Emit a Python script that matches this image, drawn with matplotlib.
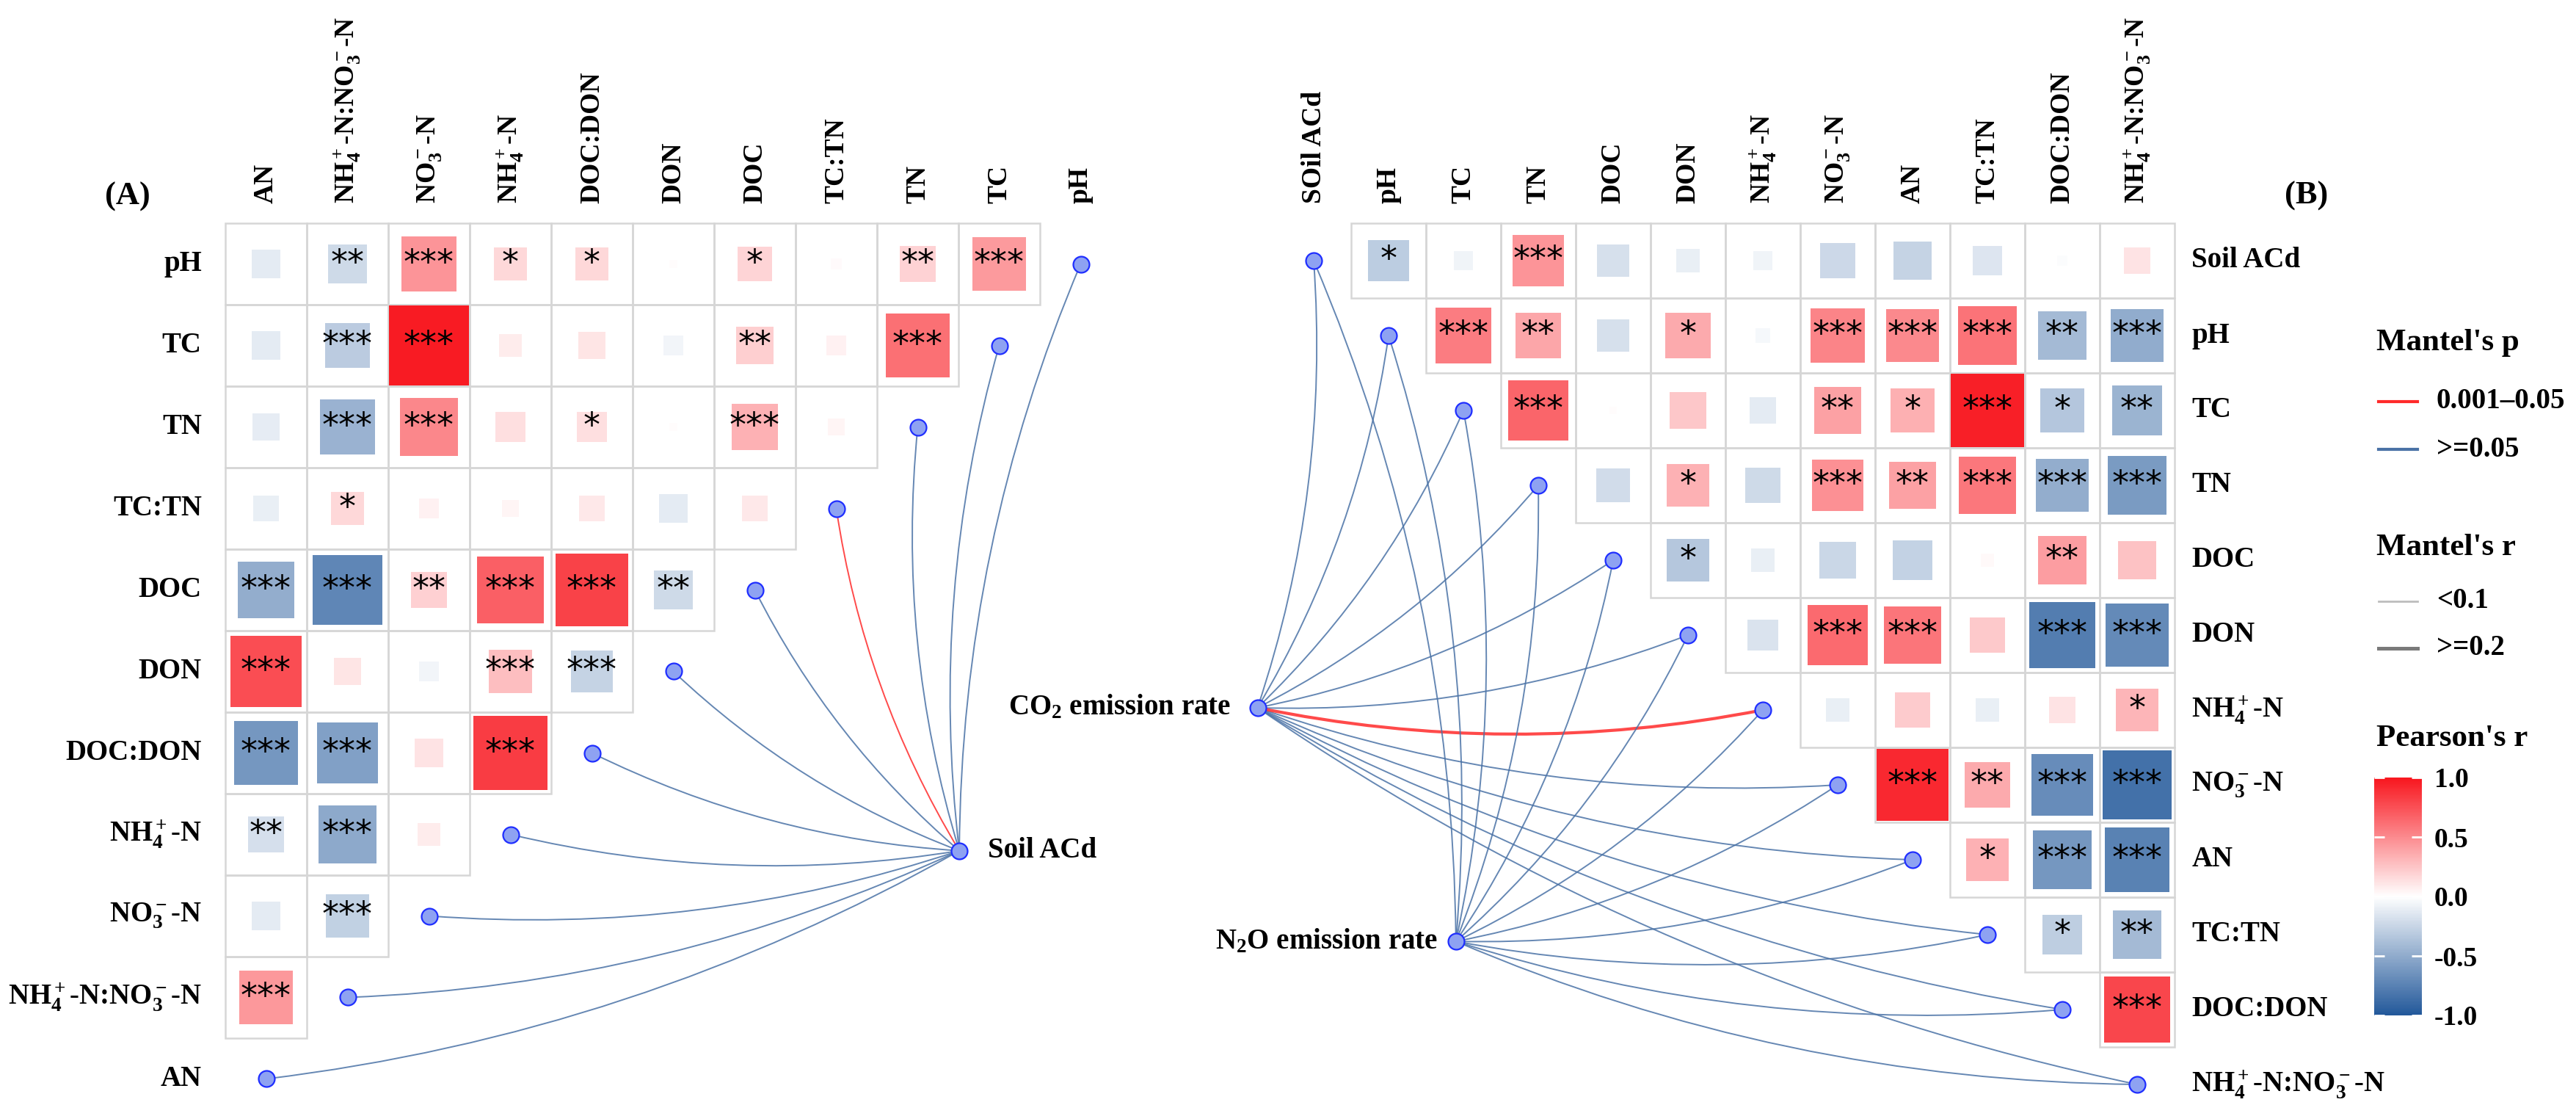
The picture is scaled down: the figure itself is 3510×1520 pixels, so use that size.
import numpy as np
import matplotlib.pyplot as plt
from matplotlib.colors import LinearSegmentedColormap, Normalize
from matplotlib.patches import Rectangle, PathPatch
from matplotlib.path import Path
from matplotlib.cm import ScalarMappable

plt.rcParams['font.family'] = ['Liberation Serif', 'DejaVu Sans']
plt.rcParams['font.weight'] = 'bold'
plt.rcParams['mathtext.fontset'] = 'custom'
plt.rcParams['mathtext.rm'] = 'Liberation Serif:bold'
plt.rcParams['mathtext.it'] = 'Liberation Serif:italic:bold'
plt.rcParams['mathtext.bf'] = 'Liberation Serif:bold'

NH4 = r'NH$_4^+$-N'
NO3 = r'NO$_3^-$-N'
RATIO = r'NH$_4^+$-N:NO$_3^-$-N'

# ---------------- panel A data ----------------
rows_a = ['pH', 'TC', 'TN', 'TC:TN', 'DOC', 'DON', 'DOC:DON', NH4, NO3, RATIO, 'AN']
cols_a = ['AN', RATIO, NO3, NH4, 'DOC:DON', 'DON', 'DOC', 'TC:TN', 'TN', 'TC', 'pH']

r_a = [
    [-0.12, -0.22, 0.46, 0.17, 0.17, 0.01, 0.18, 0.02, 0.19, 0.43],
    [-0.12, -0.31, 0.97, 0.08, 0.11, -0.06, 0.21, 0.06, 0.61],
    [-0.11, -0.46, 0.51, 0.14, 0.14, 0.01, 0.33, 0.04],
    [-0.10, 0.17, 0.06, 0.04, 0.10, -0.12, 0.10],
    [-0.49, -0.72, 0.20, 0.68, 0.81, -0.22],
    [0.76, 0.11, -0.06, 0.28, -0.26],
    [-0.62, -0.57, 0.12, 0.83],
    [-0.19, -0.51, 0.08],
    [-0.12, -0.28],
    [0.44],
]
stars_a = [
    ['', '**', '***', '*', '*', '', '*', '', '**', '***'],
    ['', '***', '***', '', '', '', '**', '', '***'],
    ['', '***', '***', '', '*', '', '***', ''],
    ['', '*', '', '', '', '', ''],
    ['***', '***', '**', '***', '***', '**'],
    ['***', '', '', '***', '***'],
    ['***', '***', '', '***'],
    ['**', '***', ''],
    ['', '***'],
    ['***'],
]
# Mantel test of Soil ACd against each row variable (order of rows_a)
mantel_p_a = ['>=0.05', '>=0.05', '>=0.05', '0.001-0.05', '>=0.05', '>=0.05',
              '>=0.05', '>=0.05', '>=0.05', '>=0.05', '>=0.05']
mantel_r_a = ['<0.1'] * 11

# ---------------- panel B data ----------------
rows_b = ['Soil ACd', 'pH', 'TC', 'TN', 'DOC', 'DON', NH4, NO3, 'AN', 'TC:TN', 'DOC:DON', RATIO]
cols_b = ['SOil ACd', 'pH', 'TC', 'TN', 'DOC', 'DON', NH4, NO3, 'AN', 'TC:TN', 'DOC:DON', RATIO]

r_b = [
    [-0.30, -0.07, 0.46, -0.18, -0.10, -0.07, -0.23, -0.26, -0.15, -0.02, 0.12],
    [0.56, 0.38, -0.18, 0.36, -0.04, 0.53, 0.50, 0.60, -0.41, -0.50],
    [0.66, 0.01, 0.24, -0.12, 0.40, 0.34, 0.96, -0.34, -0.45],
    [-0.21, 0.33, -0.22, 0.47, 0.40, 0.58, -0.49, -0.60],
    [-0.33, -0.10, -0.24, -0.27, 0.03, 0.42, 0.26],
    [-0.17, 0.64, 0.59, 0.23, -0.78, -0.70],
    [-0.10, 0.22, -0.10, 0.12, 0.32],
    [0.92, 0.36, -0.68, -0.85],
    [0.33, -0.62, -0.75],
    [-0.29, -0.41],
    [0.79],
]
stars_b = [
    ['*', '', '***', '', '', '', '', '', '', '', ''],
    ['***', '**', '', '*', '', '***', '***', '***', '**', '***'],
    ['***', '', '', '', '**', '*', '***', '*', '**'],
    ['', '*', '', '***', '**', '***', '***', '***'],
    ['*', '', '', '', '', '**', ''],
    ['', '***', '***', '', '***', '***'],
    ['', '', '', '', '*'],
    ['***', '**', '***', '***'],
    ['*', '***', '***'],
    ['*', '**'],
    ['***'],
]
env_b = [r'CO$_2$ emission rate', r'N$_2$O emission rate']
mantel_p_b = [
    ['>=0.05'] * 6 + ['0.001-0.05'] + ['>=0.05'] * 5,
    ['>=0.05'] * 12,
]
mantel_r_b = [
    ['<0.1'] * 6 + ['>=0.2'] + ['<0.1'] * 5,
    ['<0.1'] * 12,
]

# ---------------- styles ----------------
cmap = LinearSegmentedColormap.from_list('pr', ['#22589A', '#FFFFFF', '#F8161E'])
norm = Normalize(-1, 1)
grid_col = '#D6D6D6'
p_col = {'0.001-0.05': '#FF2A2A', '>=0.05': '#4A72A6'}
r_lw = {'<0.1': 1.4, '>=0.2': 3.0}
node_fc, node_ec = '#8EA2F2', '#1F2EFF'
star_kw = dict(ha='center', va='center', fontsize=33, family='DejaVu Sans',
               fontweight='normal', zorder=5)
lab = 28

W, H = 3510, 1520
fig = plt.figure(figsize=(W / 100, H / 100), dpi=100)


def panel_axes(x0, y0, cell, name):
    ax = fig.add_axes([0, 0, 1, 1], label=name)
    ax.set_xlim(-x0 / cell, (W - x0) / cell)
    ax.set_ylim((H - y0) / cell, -y0 / cell)
    ax.axis('off')
    return ax


def cell(ax, x, y, r, star):
    ax.add_patch(Rectangle((x, y), 1, 1, fill=False, ec=grid_col, lw=1.8, zorder=1))
    s = np.sqrt(abs(r))
    ax.add_patch(Rectangle((x + 0.5 - s / 2, y + 0.5 - s / 2), s, s,
                           fc=cmap(norm(r)), ec='none', zorder=2))
    if star:
        ax.text(x + 0.5, y + 0.5, star, **star_kw)


def curve(ax, p0, p1, color, lw, k=0.1):
    p0, p1 = np.array(p0, float), np.array(p1, float)
    d = p1 - p0
    c = (p0 + p1) / 2 + k * np.array([-d[1], d[0]])
    path = Path([p0, c, p1], [Path.MOVETO, Path.CURVE3, Path.CURVE3])
    ax.add_patch(PathPatch(path, fc='none', ec=color, lw=lw, alpha=0.85, zorder=3))


# ---------------- panel A ----------------
axa = panel_axes(307, 304, 111, 'A')
for i, row in enumerate(r_a):
    for j, r in enumerate(row):
        cell(axa, j, i, r, stars_a[i][j])

soil_a = (9.01, 7.70)
n = len(rows_a)
nodes_a = [(n - 1 - i + 0.5, i + 0.5) for i in range(n)]
for i, p in enumerate(nodes_a):
    curve(axa, p, soil_a, p_col[mantel_p_a[i]], r_lw[mantel_r_a[i]])
xs, ys = zip(*(nodes_a + [soil_a]))
axa.scatter(xs, ys, s=250, fc=node_fc, ec=node_ec, lw=1.6, zorder=4)
axa.text(soil_a[0] + 0.35, soil_a[1], 'Soil ACd', ha='left', va='center', fontsize=lab)

for i, name in enumerate(rows_a):
    axa.text(-0.29, i + 0.5, name, ha='right', va='center', fontsize=lab)
for j, name in enumerate(cols_a):
    axa.text(j + 0.5, -0.24, name, ha='center', va='bottom', rotation=90, fontsize=lab - 1)
axa.text(-1.2, -0.33, '(A)', ha='center', va='center', fontsize=32)

# ---------------- panel B ----------------
axb = panel_axes(1739, 304, 102, 'B')
for i, row in enumerate(r_b):
    for j, r in enumerate(row):
        cell(axb, i + 1 + j, i, r, stars_b[i][j])

env_pos = [(-0.25, 6.47), (2.40, 9.59)]
nodes_b = [(k + 0.5, k + 0.5) for k in range(len(rows_b))]
for e, ep in enumerate(env_pos):
    order = np.argsort([r_lw[v] for v in mantel_r_b[e]], kind='stable')
    for k in order:
        curve(axb, ep, nodes_b[k], p_col[mantel_p_b[e][k]], r_lw[mantel_r_b[e][k]])
xs, ys = zip(*(nodes_b + env_pos))
axb.scatter(xs, ys, s=250, fc=node_fc, ec=node_ec, lw=1.6, zorder=4)
axb.text(env_pos[0][0] - 0.36, env_pos[0][1], env_b[0], ha='right', va='center', fontsize=lab)
axb.text(env_pos[1][0] - 0.24, env_pos[1][1], env_b[1], ha='right', va='center', fontsize=lab)

for i, name in enumerate(rows_b):
    axb.text(12.23, i + 0.5, name, ha='left', va='center', fontsize=lab)
for j, name in enumerate(cols_b):
    axb.text(j + 0.5, -0.26, name, ha='center', va='bottom', rotation=90, fontsize=lab - 1)
axb.text(13.76, -0.36, '(B)', ha='center', va='center', fontsize=32)

# ---------------- legends ----------------
axl = fig.add_axes([0, 0, 1, 1], label='leg')
axl.set_xlim(0, W)
axl.set_ylim(H, 0)
axl.axis('off')
axl.text(3238, 467, "Mantel's p", ha='left', va='center', fontsize=31)
for y, key, txt in [(547, '0.001-0.05', '0.001\u20130.05'), (612, '>=0.05', '>=0.05')]:
    axl.plot([3241, 3294], [y, y], color=p_col[key], lw=3)
    axl.text(3320, y, txt, ha='left', va='center', fontsize=lab)
axl.text(3238, 746, "Mantel's r", ha='left', va='center', fontsize=31)
for y, key, c in [(819, '<0.1', '#BDBDBD'), (883, '>=0.2', '#7A7A7A')]:
    axl.plot([3241, 3294], [y, y], color=c, lw=r_lw[key] + 0.6)
    axl.text(3320, y, key, ha='left', va='center', fontsize=lab)
axl.text(3238, 1006, "Pearson's r", ha='left', va='center', fontsize=31)

cax = fig.add_axes([3235 / W, 1 - 1383 / H, 65 / W, (1383 - 1059) / H])
cb = fig.colorbar(ScalarMappable(norm=norm, cmap=cmap), cax=cax, ticks=[-1, -0.5, 0, 0.5, 1])
cb.outline.set_visible(False)
cb.ax.set_yticklabels(['-1.0', '-0.5', '0.0', '0.5', '1.0'])
cax.tick_params(direction='in', color='white', length=10, width=2, left=True, right=True,
                labelsize=27, pad=12)

fig.savefig('out.png', dpi=100, facecolor='white')
